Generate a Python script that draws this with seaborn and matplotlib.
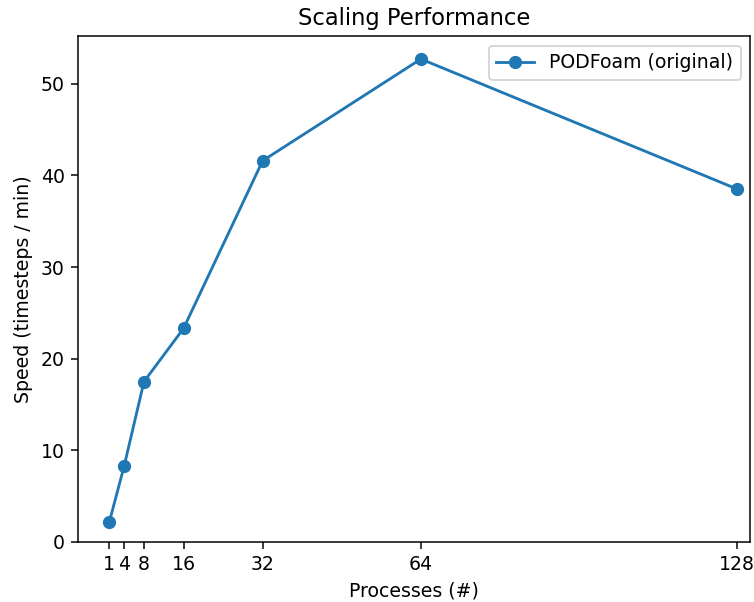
import pandas as pd
import matplotlib
matplotlib.use("Agg")
import matplotlib.pyplot as plt
import seaborn as sns

# =========================
# DATA
# =========================
processes = [1, 4, 8, 16, 32, 64, 128]
speed = [2.2, 8.3, 17.5, 23.3, 41.6, 52.7, 38.5]
series_name = "PODFoam (original)"

df = pd.DataFrame({"processes": processes, "speed": speed, "case": series_name})

# =========================
# PLOT
# =========================
DPI = 136
fig, ax = plt.subplots(figsize=(754 / DPI, 602 / DPI), dpi=DPI)
fig.subplots_adjust(left=0.1034, right=0.995, top=0.940, bottom=0.0997)

sns.lineplot(
    data=df, x="processes", y="speed", hue="case",
    palette=["#1f77b4"], marker="o", markersize=6,
    markeredgecolor="#1f77b4", markeredgewidth=1,
    linewidth=1.5, ax=ax,
)

ax.set_xticks(processes)
ax.set_xticklabels([str(p) for p in processes])
ax.set_xlim(-5.35, 130.6)
ax.set_ylim(0, 55.2)

ax.set_title("Scaling Performance", fontsize=12)
ax.set_xlabel("Processes (#)")
ax.set_ylabel("Speed (timesteps / min)")
ax.legend(loc="upper right")

plt.savefig("out.png", dpi=DPI)
plt.close()
